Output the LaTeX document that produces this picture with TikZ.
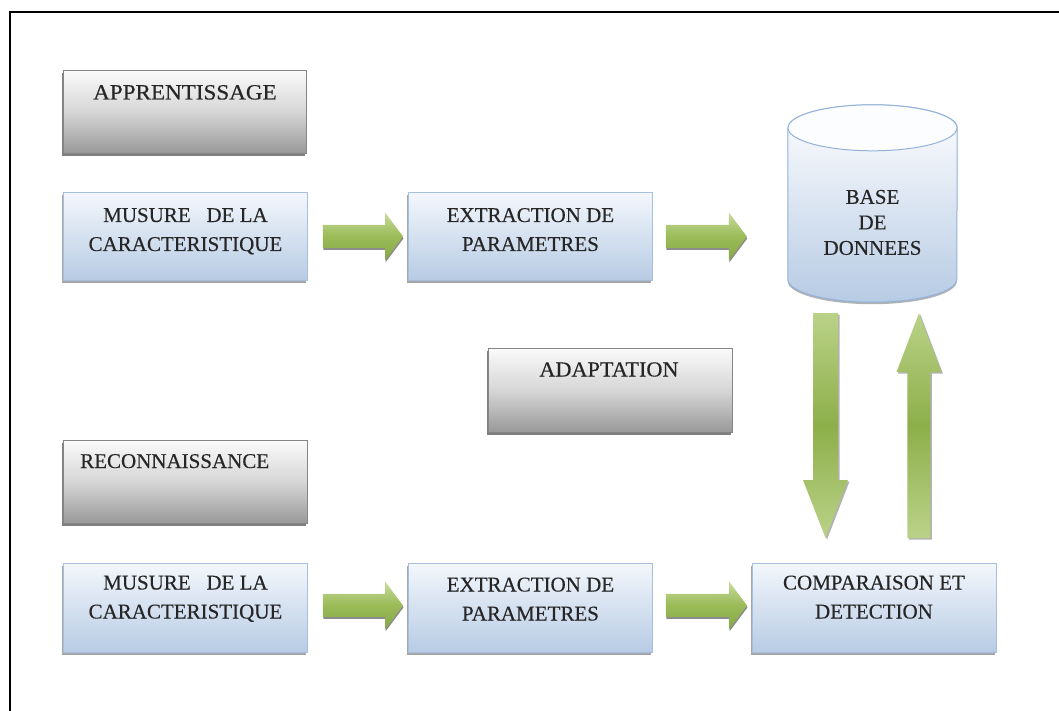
\documentclass[tikz,border=0pt]{standalone}
\usepackage{fontspec}
\setmainfont{Liberation Serif}
\newfontfamily\labelfont{Liberation Serif}[FakeBold=0.35]
\usetikzlibrary{calc,shadows}

\definecolor{boxblueline}{HTML}{A7BFDE}
\definecolor{boxbluetop}{HTML}{F3F7FC}
\definecolor{boxbluebot}{HTML}{B7CBE4}
\definecolor{grayline}{HTML}{858585}
\definecolor{graytop}{HTML}{FAFAFA}
\definecolor{graymid}{HTML}{D6D6D6}
\definecolor{graybot}{HTML}{989898}
\definecolor{greenlight}{HTML}{C8DB9E}
\definecolor{greenmid}{HTML}{9ABB57}
\definecolor{greendark}{HTML}{87A945}
\definecolor{greenend}{HTML}{BAD288}
\definecolor{greencore}{HTML}{8DAF4A}
\definecolor{cylline}{HTML}{93B2DA}
\definecolor{cyltopfill}{HTML}{FCFDFE}
\definecolor{txtcol}{HTML}{262626}

% centred multi-line labels, anchored on the baseline of the first line
\newcommand\stack[1]{\begin{tabular}[t]{@{}c@{}}#1\end{tabular}}

% green block arrows (horizontal: start point, tip)
\newcommand\harrow[2]{%
  \path[garrowh] let \p1=#1, \p2=#2 in
    (\x1,\y1+11.5pt) -- (\x2-18pt,\y1+11.5pt) -- (\x2-18pt,\y1+24pt) -- (\x2,\y1)
    -- (\x2-18pt,\y1-24pt) -- (\x2-18pt,\y1-11.5pt) -- (\x1,\y1-11.5pt) -- cycle;}
% vertical, pointing down (tail, tip)
\newcommand\garrowdown[2]{%
  \path[garrowv] let \p1=#1, \p2=#2 in
    (\x1-12.5pt,\y1) -- (\x1+12.5pt,\y1) -- (\x1+12.5pt,\y2+58pt) -- (\x1+22.5pt,\y2+58pt)
    -- (\x1,\y2) -- (\x1-22.5pt,\y2+58pt) -- (\x1-12.5pt,\y2+58pt) -- cycle;}
% vertical, pointing up (tail, tip)
\newcommand\garrowup[2]{%
  \path[garrowv] let \p1=#1, \p2=#2 in
    (\x1-11.5pt,\y1) -- (\x1+11.5pt,\y1) -- (\x1+11.5pt,\y2-59pt) -- (\x1+22.5pt,\y2-59pt)
    -- (\x1,\y2) -- (\x1-22.5pt,\y2-59pt) -- (\x1-11.5pt,\y2-59pt) -- cycle;}

\tikzset{
  boxshadow/.style={drop shadow={shadow xshift=-1pt, shadow yshift=-2.5pt, opacity=.35, fill=black}},
  bluebox/.style={draw=boxblueline, line width=0.9pt, top color=boxbluetop, bottom color=boxbluebot,
    boxshadow, minimum width=244pt, minimum height=88pt, inner sep=0pt, anchor=north west},
  graybox/.style={draw=grayline, line width=0.9pt, top color=graytop, bottom color=graybot, middle color=graymid,
    drop shadow={shadow xshift=-1pt, shadow yshift=-2.5pt, opacity=.5, fill=black},
    minimum width=243pt, minimum height=83pt, inner sep=0pt, anchor=north west},
  txt/.style={font=\labelfont\fontsize{21}{29}\selectfont, text=txtcol, inner sep=0pt, anchor=base},
  garrowh/.style={top color=greenlight, bottom color=greendark, middle color=greenmid,
    drop shadow={shadow xshift=0.5pt, shadow yshift=-2pt, opacity=.45, fill=black}},
  garrowv/.style={top color=greenend, bottom color=greenend, middle color=greencore,
    drop shadow={shadow xshift=1.5pt, shadow yshift=-1.5pt, opacity=.3, fill=black}},
  cylbody/.style={draw=cylline, line width=1pt, top color=white, bottom color=boxbluebot,
    drop shadow={shadow xshift=0pt, shadow yshift=-2pt, opacity=.3, fill=black}},
  cyltop/.style={draw=cylline, line width=1pt, fill=cyltopfill},
  frame/.style={draw=black, line width=2.5pt}
}

\begin{document}
\begin{tikzpicture}[x=1pt,y=1pt]
\useasboundingbox (0,0) rectangle (1059,-711);

% outer frame (top and left edges)
\coordinate (ftr) at (1059,-12);
\coordinate (ftl) at (10,-12);
\coordinate (fbl) at (10,-711);
\draw[frame] (ftr) -- (ftl) -- (fbl);

% learning phase
\node[graybox] (app) at (63,-70) {};
\node[txt] (appt) at ($(app.north)+(0,-29.5pt)$) {\scalebox{1.1}[1.04]{APPRENTISSAGE}};

\node[bluebox] (m1) at (63,-192) {};
\node[txt] (m1t) at ($(m1.north)+(0,-30pt)$) {\stack{MUSURE\ \ \ DE LA\\CARACTERISTIQUE}};

\node[bluebox] (e1) at (408,-192) {};
\node[txt] (e1t) at ($(e1.north)+(0,-30pt)$) {\stack{EXTRACTION DE\\PARAMETRES}};

% database cylinder
\node[minimum width=169pt, minimum height=197pt, inner sep=0pt] (db) at (872.5,-203.5) {};
\path[cylbody] ($(db.north west)+(0,-23pt)$) -- ($(db.south west)+(0,23pt)$)
  arc[start angle=180, end angle=360, x radius=84.5pt, y radius=23pt]
  -- ($(db.north east)+(0,-23pt)$)
  arc[start angle=0, end angle=180, x radius=84.5pt, y radius=23pt] -- cycle;
\path[cyltop] ($(db.north)+(0,-23pt)$) ellipse[x radius=84.5pt, y radius=23pt];
\node[txt, font=\labelfont\fontsize{21}{25.5}\selectfont] (dbt) at ($(db.north)+(0,-99pt)$) {\stack{BASE\\DE\\DONNEES}};

% adaptation
\node[graybox, minimum width=244pt, minimum height=84pt] (adp) at (488,-348) {};
\node[txt] (adpt) at ($(adp.north)+(-1.5pt,-28.5pt)$) {\scalebox{1.06}[1.02]{ADAPTATION}};

% recognition phase
\node[graybox, minimum width=244pt] (rec) at (63,-440) {};
\node[txt, anchor=base west] (rect) at ($(rec.north west)+(17pt,-28pt)$) {RECONNAISSANCE};

\node[bluebox, minimum height=89pt] (m2) at (63,-563) {};
\node[txt] (m2t) at ($(m2.north)+(0,-26.5pt)$) {\stack{MUSURE\ \ \ DE LA\\CARACTERISTIQUE}};

\node[bluebox, minimum height=89pt] (e2) at (408,-563) {};
\node[txt] (e2t) at ($(e2.north)+(0,-28.5pt)$) {\stack{EXTRACTION DE\\PARAMETRES}};

\node[bluebox, minimum height=89pt] (cmp) at (752,-563) {};
\node[txt] (cmpt) at ($(cmp.north)+(-0.5pt,-26.5pt)$) {\stack{COMPARAISON ET\\DETECTION}};

% flow arrows
\harrow{($(m1.east)+(15pt,0)$)}{($(e1.west)+(-5pt,0)$)}
\harrow{($(e1.east)+(13pt,0)$)}{($(db.west |- e1.east)+(-41pt,0)$)}
\harrow{($(m2.east)+(15pt,2.5pt)$)}{($(e2.west)+(-5pt,2.5pt)$)}
\harrow{($(e2.east)+(13pt,2.5pt)$)}{($(cmp.west)+(-5pt,2.5pt)$)}
\garrowdown{($(db.south)+(-47pt,-11pt)$)}{($(cmp.north)+(-48.5pt,25pt)$)}
\garrowup{($(cmp.north)+(44.5pt,25pt)$)}{($(db.south)+(46pt,-11pt)$)}
\end{tikzpicture}
\end{document}
